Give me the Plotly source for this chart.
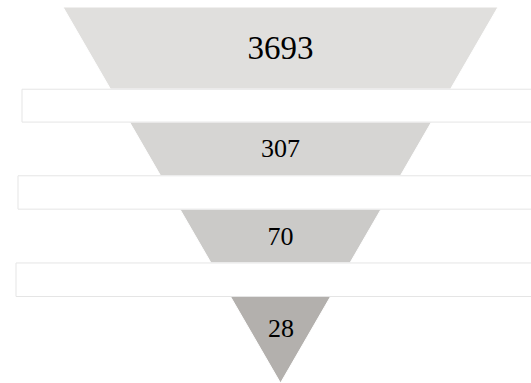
import plotly.graph_objects as go
import numpy as np

# Data
stage_values = [3693, 307, 70, 28]
stage_colors = ["#e0dfdd", "#d6d5d3", "#cbcac8", "#b3b0ad"]
stage_font_sizes = [33, 26, 26, 26]
# area share of each funnel band (stage, gap, stage, gap, ...)
section_shares = [0.390, 0.129, 0.178, 0.090, 0.112, 0.049, 0.053]
gap_left_px = [22, 18, 16]

W, H = 531, 383
dom_x = [63 / W, 498 / W]
dom_y = [0.0, 1 - 7 / H]

texts, colors, sizes = [], [], []
n = len(stage_values)
for i, v in enumerate(stage_values):
    # last (triangular) band has no room for inside text; it is labelled below
    texts.append(str(v) if i < n - 1 else "")
    colors.append(stage_colors[i]); sizes.append(stage_font_sizes[i])
    if i < n - 1:
        texts.append(""); colors.append("#ffffff"); sizes.append(10)

fig = go.Figure(go.Funnelarea(
    values=section_shares,
    text=texts,
    textinfo="text",
    textposition="inside",
    textfont=dict(family="Liberation Serif", color="#000000", size=sizes),
    marker=dict(colors=colors, line=dict(color="#ffffff", width=1)),
    baseratio=0,
    aspectratio=(H - 7) / (498 - 63),
    domain=dict(x=dom_x, y=dom_y),
    showlegend=False,
    hoverinfo="none",
))

# band boundaries (paper y) from the funnel's area rule
shares = np.array(section_shares, dtype=float)
cum_from_bottom = np.concatenate([[0], np.cumsum(shares[::-1])]) / shares.sum()
dist = np.sqrt(cum_from_bottom)  # fraction of height from apex, bottom->top
bounds = dom_y[0] + dist * (dom_y[1] - dom_y[0])
bounds_top_down = bounds[::-1]  # boundaries from top to bottom

for g in range(n - 1):
    sec = 2 * g + 1
    y_top = bounds_top_down[sec]
    y_bot = bounds_top_down[sec + 1]
    fig.add_shape(type="rect", xref="paper", yref="paper",
                  x0=gap_left_px[g] / W, x1=1.3, y0=y_bot, y1=y_top,
                  fillcolor="#ffffff", line=dict(color="#e5e5e5", width=1),
                  layer="above")

# label of the last (triangle) band
last_top = bounds_top_down[-2]
last_bot = bounds_top_down[-1]
fig.add_annotation(x=(dom_x[0] + dom_x[1]) / 2, y=last_top - 0.37 * (last_top - last_bot),
                   xref="paper", yref="paper", text=str(stage_values[-1]),
                   showarrow=False, xanchor="center", yanchor="middle",
                   font=dict(family="Liberation Serif", color="#000000",
                             size=stage_font_sizes[-1]))

fig.update_layout(width=W, height=H, margin=dict(l=0, r=0, t=0, b=0),
                  paper_bgcolor="#ffffff", plot_bgcolor="#ffffff")
fig.write_html("out.html")
